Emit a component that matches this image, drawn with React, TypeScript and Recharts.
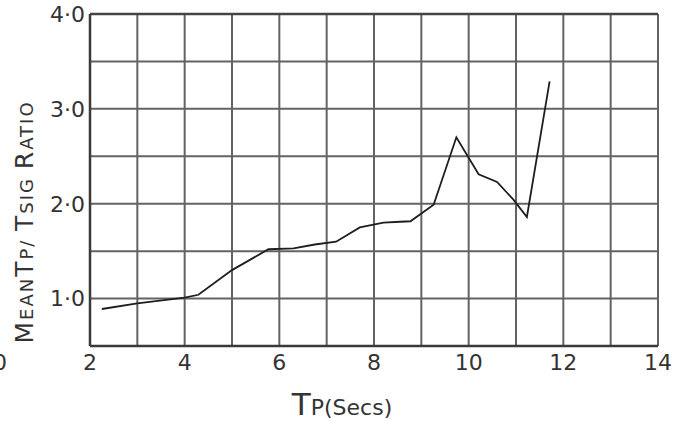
import React from "react";
import { LineChart, Line, XAxis, YAxis, CartesianGrid, ReferenceLine } from "recharts";

const tpSecs = [2.25, 3.0, 4.0, 4.29, 5.0, 5.77, 6.3, 6.75, 7.2, 7.7, 8.2, 8.55, 8.77, 9.26, 9.74, 10.21, 10.6, 10.95, 11.23, 11.71];
const ratioValues = [0.89, 0.95, 1.01, 1.04, 1.3, 1.52, 1.53, 1.57, 1.6, 1.75, 1.8, 1.81, 1.815, 1.99, 2.7, 2.31, 2.23, 2.04, 1.86, 3.29];
const xTicks = [2, 3, 4, 5, 6, 7, 8, 9, 10, 11, 12, 13, 14];
const yTicks = [0.5, 1, 1.5, 2, 2.5, 3, 3.5, 4];

const data = tpSecs.map((tp, i) => ({ tp, ratio: ratioValues[i] }));

const FONT = "'DejaVu Sans', sans-serif";
const INK = "#333";

const YTitle = (props: any) => {
  const vb = props.viewBox || { x: 0, y: 0, width: 90, height: 332 };
  const cx = vb.x + 33;
  const cy = vb.y + 208;
  const big = 25;
  const small = 18;
  return (
    <g>
      <text
        x={cx}
        y={cy}
        transform={`rotate(-90, ${cx}, ${cy})`}
        textAnchor="middle"
        fill={INK}
        fontFamily={FONT}
        letterSpacing={2}
      >
        <tspan fontSize={big}>M</tspan>
        <tspan fontSize={small}>EAN</tspan>
        <tspan fontSize={big}>T</tspan>
        <tspan fontSize={small}>P/ </tspan>
        <tspan fontSize={big}>T</tspan>
        <tspan fontSize={small}>SIG </tspan>
        <tspan fontSize={big}>R</tspan>
        <tspan fontSize={small}>ATIO</tspan>
      </text>
      <text x={7} y={vb.y + vb.height + 24} textAnchor="end" fontSize={22} fill={INK} fontFamily={FONT}>
        0
      </text>
    </g>
  );
};

const XTitle = (props: any) => {
  const vb = props.viewBox || { x: 90, y: 346, width: 568, height: 75 };
  const cx = vb.x + 252;
  const y = vb.y + 69;
  return (
    <text x={cx} y={y} textAnchor="middle" fill={INK} fontFamily={FONT}>
      <tspan fontSize={31}>T</tspan>
      <tspan fontSize={22}>P(Secs)</tspan>
    </text>
  );
};

const fmtX = (v: number) => (v % 2 === 0 ? String(v) : "");
const fmtY = (v: number) => (Number.isInteger(v) ? `${v}\u00B70` : "");

export default function App() {
  return (
    <div style={{ position: "absolute", left: 0, top: 0, width: 682, height: 421, background: "#fff" }}>
      <LineChart width={682} height={421} data={data} margin={{ top: 14, right: 24, bottom: 0, left: 0 }}>
        <CartesianGrid stroke="#636363" strokeWidth={2} />
        <XAxis
          dataKey="tp"
          type="number"
          domain={[2, 14]}
          ticks={xTicks}
          interval={0}
          tickFormatter={fmtX}
          tickLine={false}
          tickSize={0}
          tickMargin={8}
          height={75}
          axisLine={{ stroke: "#3a3a3a", strokeWidth: 2.5 }}
          tick={{ fill: INK, fontSize: 22, fontFamily: FONT }}
          label={<XTitle />}
          allowDataOverflow
        />
        <YAxis
          type="number"
          domain={[0.5, 4]}
          ticks={yTicks}
          interval={0}
          tickFormatter={fmtY}
          tickLine={false}
          tickSize={0}
          tickMargin={5}
          width={90}
          axisLine={{ stroke: "#3a3a3a", strokeWidth: 2.5 }}
          tick={{ fill: INK, fontSize: 22, fontFamily: FONT }}
          label={<YTitle />}
          allowDataOverflow
        />
        <ReferenceLine y={4} stroke="#444" strokeWidth={2.5} />
        <Line
          dataKey="ratio"
          type="linear"
          stroke="#1e1e1e"
          strokeWidth={1.8}
          dot={false}
          isAnimationActive={false}
        />
      </LineChart>
    </div>
  );
}
